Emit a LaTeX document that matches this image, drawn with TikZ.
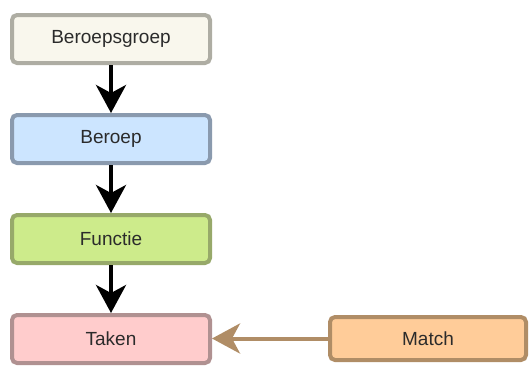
\documentclass[tikz,border=0pt]{standalone}
\usepackage{fontspec}
\setmainfont{Liberation Sans}
\usetikzlibrary{arrows.meta}
\definecolor{grpfill}{HTML}{F9F7ED}\definecolor{grpline}{HTML}{AEADA3}
\definecolor{brpfill}{HTML}{CCE5FF}\definecolor{brpline}{HTML}{8A9AAE}
\definecolor{fncfill}{HTML}{CDEB8B}\definecolor{fncline}{HTML}{97A96A}
\definecolor{tknfill}{HTML}{FFCCCC}\definecolor{tknline}{HTML}{B09191}
\definecolor{mtcfill}{HTML}{FFCC99}\definecolor{mtcline}{HTML}{B08D66}
\definecolor{txt}{HTML}{2B2B2B}
\begin{document}
\begin{tikzpicture}[x=1pt,y=-1pt,
  box/.style={draw, line width=4pt, rounded corners=5pt, minimum width=198pt,
    minimum height=48pt, inner sep=0pt, text=txt,
    font=\fontsize{19}{21}\selectfont},
  flow/.style={line width=4pt, -{Stealth[length=28pt,width=30pt,inset=8pt]}},
]
\useasboundingbox (0,0) rectangle (530,365);
\node[box, fill=grpfill, draw=grpline] (grp) at (111,39) {Beroepsgroep};
\node[box, fill=brpfill, draw=brpline] (brp) at (111,139) {Beroep};
\node[box, fill=fncfill, draw=fncline] (fnc) at (111,239) {Functie};
\node[box, fill=tknfill, draw=tknline] (tkn) at (111,339) {Taken};
\node[box, fill=mtcfill, draw=mtcline, minimum width=196pt, minimum height=43pt] (mtc) at (428,338.5) {Match};
\draw[flow] (grp) -- (brp);
\draw[flow] (brp) -- (fnc);
\draw[flow] (fnc) -- (tkn);
\draw[flow, draw=mtcline, fill=mtcline] (mtc.west) -- (tkn.east |- mtc.west);
\end{tikzpicture}
\end{document}
